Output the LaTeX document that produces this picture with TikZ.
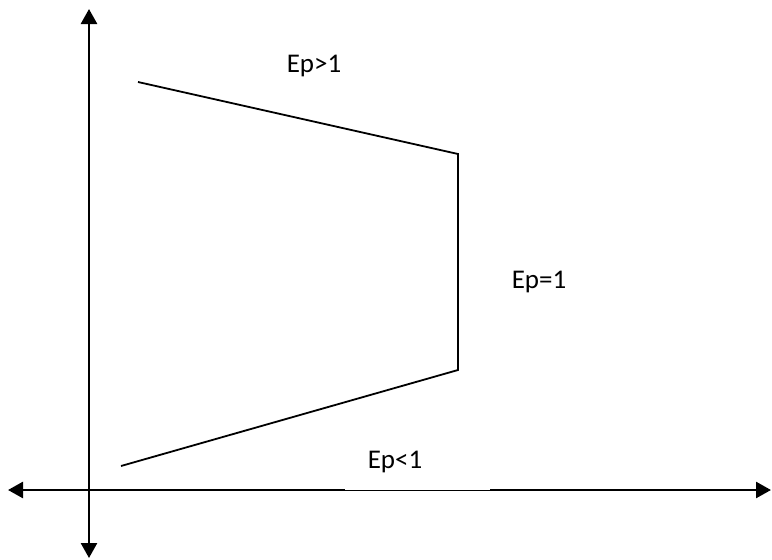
\documentclass[tikz,border=0pt]{standalone}
\usepackage{fontspec}
\setmainfont{Carlito}
\usetikzlibrary{positioning,arrows.meta}
\tikzset{
  axisLine/.style={line width=2.6pt, {Triangle[length=15pt,width=16pt]}-{Triangle[length=15pt,width=16pt]}},
  boundLine/.style={line width=1.8pt, line join=miter},
  regionLabel/.style={font=\fontsize{27}{32}\selectfont, inner sep=0pt},
  gapBox/.style={fill=white, draw=none, minimum width=145pt, minimum height=54pt, inner sep=0pt}
}

\begin{document}
\begin{tikzpicture}[x=1pt, y=-1pt]
  \useasboundingbox (0,0) rectangle (772,560);

  % axes
  \coordinate (yTop) at (89,9);
  \coordinate (yBot) at (89,558);
  \coordinate (xLeft) at (8,490);
  \coordinate (xRight) at (771,490);
  \draw[axisLine] (yBot) -- (yTop);
  \draw[axisLine] (xLeft) -- (xRight);

  % elasticity bounds
  \coordinate (topStart) at (138,82);
  \coordinate (topEnd) at (458,154);
  \coordinate (botEnd) at (458,370);
  \coordinate (botStart) at (121,466);
  \draw[boundLine] (topStart) -- (topEnd) -- (botEnd) -- (botStart);

  % labels
  \node[regionLabel] (elastic) at (314,66) {Ep>1};
  \node[regionLabel] (unit) at (539,282) {Ep=1};
  \node[gapBox, anchor=south west] (ltBox) at (345,490.6) {};
  \node[regionLabel] (inelastic) at (395,462) {Ep<1};
\end{tikzpicture}
\end{document}
